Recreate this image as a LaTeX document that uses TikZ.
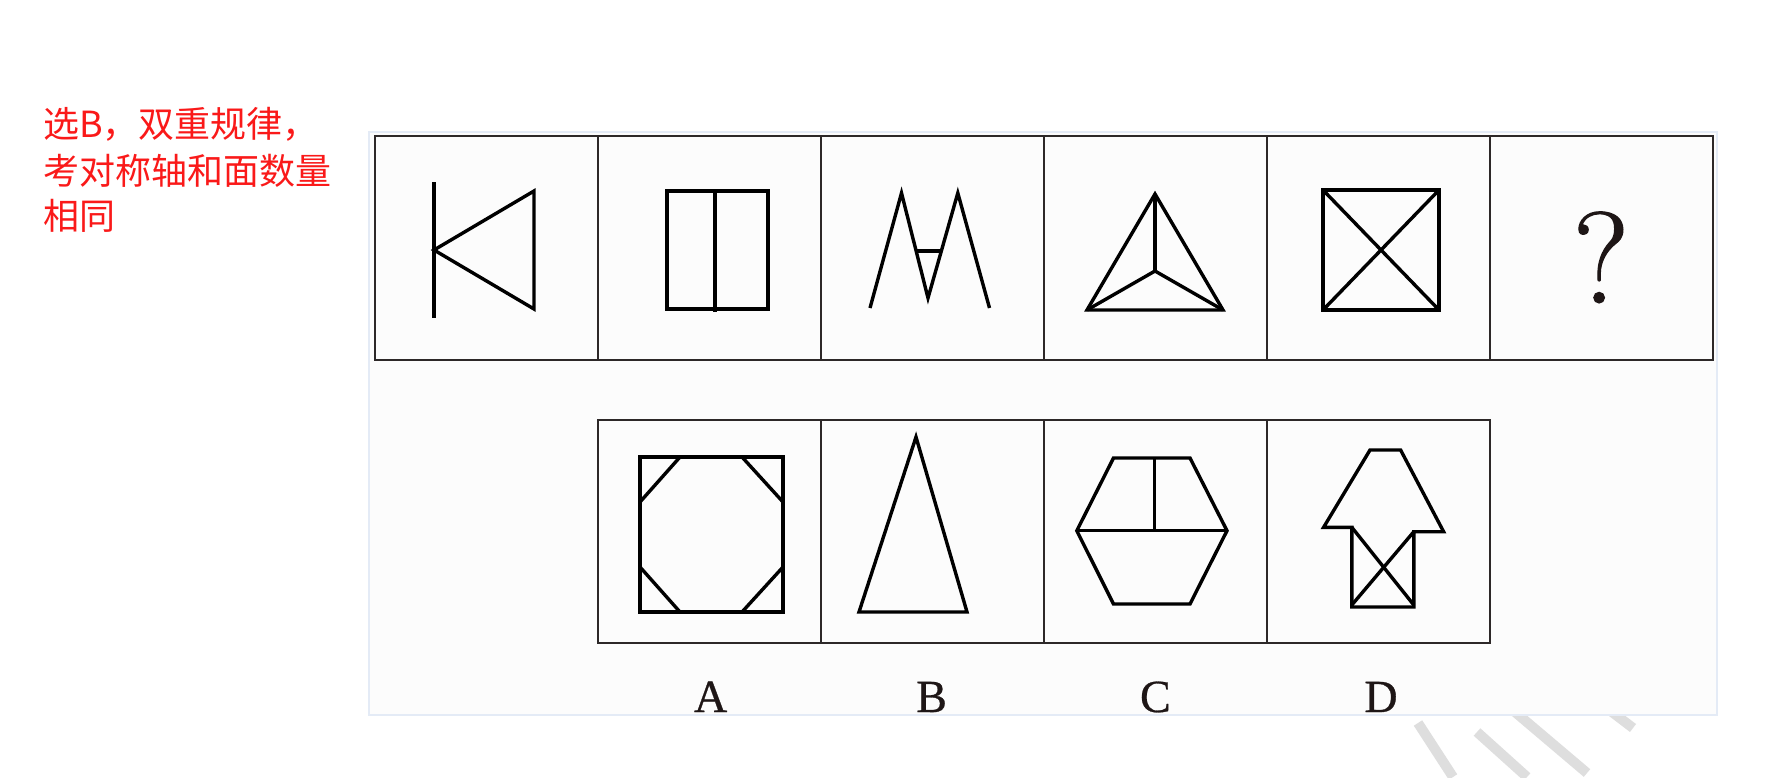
\documentclass[tikz,border=0pt]{standalone}
\usepackage{fontspec}
\newfontfamily\cjk{Noto Sans CJK SC}
\newfontfamily\qfont[FakeBold=0.9]{Latin Modern Roman}
\newfontfamily\lblfont[FakeBold=0.6]{Liberation Serif}
\definecolor{panelborder}{RGB}{228,235,246}
\definecolor{panelfill}{RGB}{252,252,252}
\definecolor{wm}{RGB}{222,222,222}
\definecolor{framecol}{RGB}{45,40,40}
\definecolor{redtext}{RGB}{250,25,25}
\definecolor{inkcol}{RGB}{30,22,22}
\begin{document}
\begin{tikzpicture}[x=1pt,y=-1pt,
  fig/.style={line width=3.4pt, draw=black, line join=miter},
  cell/.style={draw=framecol, line width=2pt, minimum width=223pt, minimum height=224pt, inner sep=0pt},
  wmstroke/.style={line width=10pt, draw=wm},
  optlabel/.style={anchor=base, inner sep=0pt, font=\lblfont\fontsize{46}{46}\selectfont, text=inkcol},
  note/.style={anchor=base west, inner sep=0pt, text=redtext, font=\cjk\fontsize{36}{46}\selectfont}]
\useasboundingbox (0,0) rectangle (1775,777);
\fill[white] (0,0) rectangle (1775,777);
% watermark strokes
\draw[wmstroke] (1418,723) -- (1453,777);
\draw[wmstroke] (1477,732) -- (1527,777);
\draw[wmstroke] (1515,712) -- (1587,773);
\draw[wmstroke] (1612,712) -- (1633,728);
% panel
\filldraw[fill=panelfill, draw=panelborder, line width=2pt] (369,132) rectangle (1717,715);
% note text
\node[note] (n1) at (43,137) {选B，双重规律，};
\node[note] (n2) at (43,184) {考对称轴和面数量};
\node[note] (n3) at (43,229) {相同};
% top row cells
\node[cell] (t1) at (486.5,248) {};
\node[cell] (t2) at (709.5,248) {};
\node[cell] (t3) at (932.5,248) {};
\node[cell] (t4) at (1155.5,248) {};
\node[cell] (t5) at (1378.5,248) {};
\node[cell] (t6) at (1601.5,248) {};
% bottom row cells
\node[cell, minimum height=223pt] (b1) at (709.5,531.5) {};
\node[cell, minimum height=223pt] (b2) at (932.5,531.5) {};
\node[cell, minimum height=223pt] (b3) at (1155.5,531.5) {};
\node[cell, minimum height=223pt] (b4) at (1378.5,531.5) {};
% fig 1
\draw[fig] (434,182) -- (434,318);
\draw[fig] (534,191) -- (434,250) -- (534,309) -- cycle;
% fig 2
\draw[fig] (667,191) rectangle (768,309);
\draw[line width=4.2pt] (715,191) -- (715,312);
% fig 3
\draw[fig] (870,308) -- (901.5,193) -- (928,298) -- (957.8,193) -- (989.5,308);
\draw[fig] (915.6,251) -- (941.9,251);
% fig 4
\draw[fig] (1155,194) -- (1087,310) -- (1223,310) -- cycle;
\draw[fig] (1155,194) -- (1155,271);
\draw[fig] (1087,310) -- (1155,271) -- (1223,310);
% fig 5
\draw[fig] (1323,190) rectangle (1439,310);
\draw[fig] (1323,190) -- (1439,310);
\draw[fig] (1439,190) -- (1323,310);
% question mark
\node[anchor=base, inner sep=0pt, font=\qfont\fontsize{130}{130}\selectfont, text=inkcol] (q) at (1601,303) {?};
% option A
\draw[fig] (640,457) rectangle (783,612);
\draw[fig] (680,457) -- (640,502);
\draw[fig] (742,457) -- (783,502);
\draw[fig] (640,567) -- (680,612);
\draw[fig] (783,567) -- (742,612);
% option B
\draw[fig] (916,437) -- (859,612) -- (967,612) -- cycle;
% option C
\draw[fig] (1113.5,458) -- (1190,458) -- (1227,530.7) -- (1190,604) -- (1113.5,604) -- (1076.8,530.7) -- cycle;
\draw[fig] (1076.8,530.7) -- (1227,530.7);
\draw[fig] (1154.3,458) -- (1154.3,530.7);
% option D
\draw[fig] (1370,450) -- (1400.6,450) -- (1443.6,531.7) -- (1413.8,531.7) -- (1413.8,607) -- (1351.8,607) -- (1351.8,527.3) -- (1323.6,527.3) -- cycle;
\draw[fig] (1351.8,527.3) -- (1413.8,605);
\draw[fig] (1413.8,531.7) -- (1351.8,605);
% labels
\node[optlabel] (la) at (710.6,712) {A};
\node[optlabel] (lb) at (931.6,712) {B};
\node[optlabel] (lc) at (1155.4,712) {C};
\node[optlabel] (ld) at (1381,712) {D};
\end{tikzpicture}
\end{document}
